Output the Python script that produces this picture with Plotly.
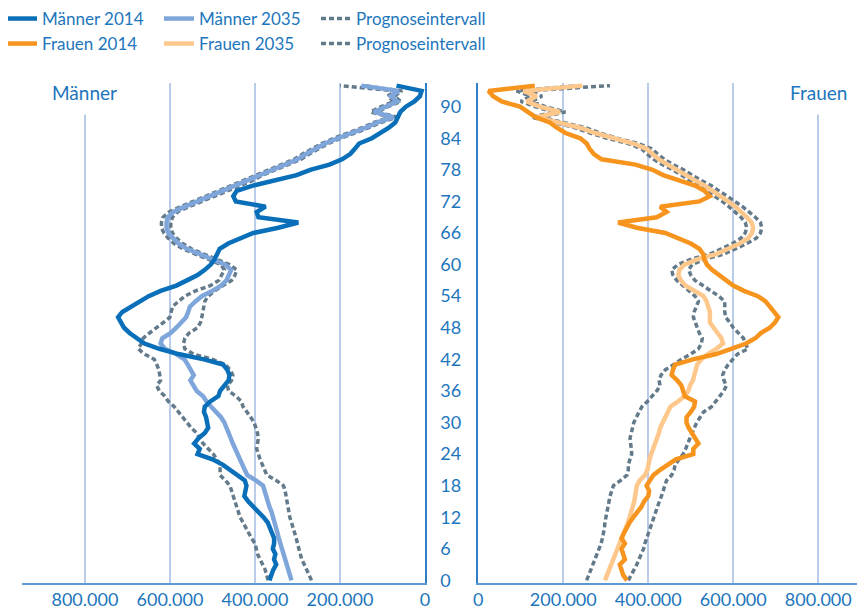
import plotly.graph_objects as go

# Bevölkerung nach Alter, in Tausend (0 bis 94 Jahre)
ages = list(range(95))

maenner_2014 = [366, 362, 357, 350, 355, 352, 358, 355, 355, 360,
                366, 370, 380, 392, 405, 416, 425, 423, 420, 424,
                440, 460, 476, 500, 535, 530, 543, 533, 518, 510,
                512, 515, 520, 518, 505, 486, 482, 472, 462, 460,
                465, 475, 520, 580, 625, 660, 678, 695, 708, 716,
                722, 712, 690, 672, 650, 622, 585, 560, 535,
                518, 504, 495, 490, 483, 463, 435, 404, 345, 298,
                392, 396, 375, 445, 451, 443, 405, 349, 302, 270,
                225, 195, 176, 165, 155, 125, 105, 85, 70, 64,
                58, 45, 25, 12, 8, 67]

maenner_2035 = [314, 318, 322, 326, 330, 333, 337, 340, 344, 347,
                350, 353, 357, 361, 366, 370, 373, 377, 381, 398,
                418, 424, 430, 435, 441, 447, 452, 457, 462, 465,
                472, 480, 490, 503, 514, 522, 537, 546, 552, 544,
                550, 558, 566, 585, 612, 622, 618, 598, 585, 572,
                562, 557, 553, 540, 525, 500, 480, 467, 460,
                456, 470, 500, 530, 560, 580, 594, 604, 608, 608,
                605, 592, 565, 535, 505, 475, 445, 415, 390, 360,
                325, 300, 280, 258, 235, 205, 170, 140, 112, 74,
                120, 95, 65, 80, 62, 150]

maenner_oben = [369, 372, 376, 382, 388, 394, 397, 400, 408, 414,
                420, 428, 435, 439, 443, 447, 451, 455, 459, 470,
                482, 482, 482, 490, 498, 510, 522, 530, 537, 550,
                560, 569, 580, 590, 604, 612, 625, 631, 622, 624,
                626, 631, 637, 660, 675, 667, 663, 648, 630, 615,
                600, 596, 594, 580, 565, 540, 505, 485, 478,
                472, 480, 508, 540, 570, 590, 604, 614, 620, 620,
                616, 602, 575, 545, 515, 485, 455, 425, 398, 368,
                333, 308, 288, 266, 243, 214, 178, 148, 120, 82,
                128, 103, 73, 88, 70, 200]

maenner_unten = [267, 272, 278, 284, 290, 294, 297, 300, 303, 306,
                 310, 314, 318, 320, 322, 324, 325, 329, 333, 350,
                 372, 378, 383, 388, 392, 396, 394, 392, 394, 398,
                 402, 410, 420, 428, 432, 445, 462, 465, 455, 452,
                 458, 470, 500, 545, 565, 568, 565, 555, 535, 528,
                 525, 522, 520, 518, 510, 495, 475, 455, 447,
                 443, 460, 492, 520, 550, 570, 584, 594, 598, 598,
                 594, 582, 555, 525, 495, 465, 435, 405, 382, 352,
                 317, 292, 272, 250, 228, 198, 162, 132, 104, 66,
                 112, 87, 57, 72, 54, 145]

frauen_2014 = [350, 341, 337, 333, 345, 340, 337, 345, 337, 343,
               349, 356, 365, 375, 384, 390, 400, 402, 396, 404,
               412, 428, 445, 465, 506, 506, 518, 510, 500, 495,
               490, 490, 500, 508, 510, 486, 482, 478, 468, 455,
               458, 463, 505, 560, 595, 630, 652, 665, 686, 698,
               706, 695, 684, 676, 658, 625, 600, 584, 565,
               550, 538, 532, 529, 520, 500, 470, 440, 373, 329,
               420, 443, 428, 520, 545, 532, 510, 475, 435, 410,
               370, 290, 272, 262, 255, 240, 205, 185, 168, 135,
               118, 98, 55, 35, 24, 133]

frauen_2035 = [298, 303, 308, 314, 319, 324, 329, 333, 338, 343,
               348, 352, 356, 360, 365, 367, 369, 371, 373, 380,
               392, 398, 400, 403, 407, 412, 416, 421, 425, 428,
               434, 438, 445, 452, 470, 485, 494, 498, 505, 508,
               512, 515, 525, 540, 560, 576, 572, 562, 555, 545,
               545, 545, 541, 537, 530, 508, 488, 477, 471,
               473, 485, 515, 560, 588, 615, 635, 644, 647, 643,
               632, 620, 605, 588, 570, 553, 533, 510, 490, 470,
               445, 425, 410, 396, 365, 315, 275, 240, 190, 137,
               192, 145, 114, 137, 106, 245]

frauen_oben = [353, 360, 367, 373, 378, 384, 389, 392, 396, 400,
               404, 408, 412, 416, 421, 426, 431, 435, 440, 443,
               455, 461, 463, 472, 482, 488, 494, 498, 503, 508,
               514, 522, 530, 549, 558, 567, 578, 584, 578, 575,
               580, 588, 600, 610, 635, 628, 624, 612, 600, 592,
               582, 580, 580, 580, 566, 548, 528, 510, 500,
               495, 503, 532, 578, 605, 632, 654, 664, 667, 664,
               652, 638, 622, 604, 586, 568, 548, 524, 504, 483,
               458, 438, 422, 408, 376, 326, 286, 252, 200, 148,
               205, 158, 126, 150, 118, 310]

frauen_unten = [255, 260, 266, 271, 276, 281, 286, 289, 292, 295,
                297, 298, 300, 302, 304, 306, 310, 314, 318, 335,
                350, 353, 353, 357, 361, 360, 358, 357, 360, 363,
                366, 372, 378, 385, 398, 410, 420, 428, 425, 430,
                440, 460, 478, 500, 518, 525, 527, 520, 516, 510,
                506, 508, 514, 518, 510, 497, 482, 467, 458,
                455, 470, 500, 545, 572, 598, 618, 628, 632, 628,
                618, 605, 590, 574, 556, 540, 520, 498, 478, 458,
                433, 413, 398, 384, 353, 303, 263, 228, 178, 125,
                180, 133, 100, 122, 90, 235]

x_ticks = [0, 200, 400, 600, 800]
x_labels = ["0", "200.000", "400.000", "600.000", "800.000"]
age_ticks = list(range(0, 91, 6))
age_range = [-0.5, 94.5]

blau_dunkel = "#0a6fb9"
blau_hell = "#7fa6da"
orange_dunkel = "#f7941d"
orange_hell = "#fec88c"
grau = "#637a8b"
textfarbe = "#1d76bc"
gridfarbe = "#b9cce9"
font = "Lato"

# the page puts the chart 8px in from the top-left corner
W, H = 857, 601
top, bottom = 75, 575
ph = bottom - top

fig = go.Figure()


def interval(x, y, xa, ya, legend, show):
    fig.add_trace(go.Scatter(
        x=x, y=y, xaxis=xa, yaxis=ya, mode="lines",
        line=dict(color=grau, width=3.5, dash="5px,3px"),
        name="Prognoseintervall", legend=legend, legendrank=3,
        showlegend=show, hoverinfo="skip",
    ))


interval(maenner_unten, ages, "x", "y", "legend", True)
interval(maenner_oben, ages, "x", "y", "legend", False)
interval(frauen_unten, ages, "x2", "y2", "legend2", True)
interval(frauen_oben, ages, "x2", "y2", "legend2", False)

fig.add_trace(go.Scatter(x=maenner_2035, y=ages, xaxis="x", yaxis="y", mode="lines",
                         line=dict(color=blau_hell, width=4.5), name="Männer 2035",
                         legend="legend", legendrank=2))
fig.add_trace(go.Scatter(x=frauen_2035, y=ages, xaxis="x2", yaxis="y2", mode="lines",
                         line=dict(color=orange_hell, width=4.5), name="Frauen 2035",
                         legend="legend2", legendrank=2))
fig.add_trace(go.Scatter(x=maenner_2014, y=ages, xaxis="x", yaxis="y", mode="lines",
                         line=dict(color=blau_dunkel, width=4.5), name="Männer 2014",
                         legend="legend", legendrank=1))
fig.add_trace(go.Scatter(x=frauen_2014, y=ages, xaxis="x2", yaxis="y2", mode="lines",
                         line=dict(color=orange_dunkel, width=4.5), name="Frauen 2014",
                         legend="legend2", legendrank=1))

# empty entries so the legend box is wide enough for "Prognoseintervall"
for lg, xa, ya in [("legend", "x", "y"), ("legend2", "x2", "y2")]:
    fig.add_trace(go.Scatter(x=[None], y=[None], xaxis=xa, yaxis=ya, mode="lines",
                             line=dict(color="rgba(0,0,0,0)"), name=" ",
                             legend=lg, legendrank=4, showlegend=True, hoverinfo="skip"))

tickfont = dict(family=font, size=18, color=textfarbe)

legend_style = dict(
    orientation="h", xanchor="left", yanchor="middle", x=-6 / W,
    entrywidth=112, entrywidthmode="pixels", itemwidth=30,
    bgcolor="rgba(0,0,0,0)", font=dict(family=font, size=17, color=textfarbe),
    traceorder="normal",
)

fig.update_layout(
    template="none",
    width=W, height=H,
    margin=dict(l=0, r=0, t=top, b=H - bottom, pad=0, autoexpand=False),
    paper_bgcolor="white", plot_bgcolor="white",
    font=dict(family=font, color=textfarbe),
    legend=dict(legend_style, y=(bottom - 11) / ph),
    legend2=dict(legend_style, y=(bottom - 36) / ph),
    xaxis=dict(
        domain=[14 / W, 417 / W], range=[948, 0], anchor="y",
        tickvals=x_ticks, ticktext=x_labels, tickfont=tickfont,
        showgrid=True, gridcolor=gridfarbe, gridwidth=1.5, zeroline=False,
        showline=True, linecolor="#5b9bd5", linewidth=1.5,
        ticks="", ticklabelstandoff=0, automargin=False,
    ),
    yaxis=dict(
        domain=[0, 1], range=age_range, anchor="x", side="right",
        tickvals=age_ticks, tickfont=tickfont,
        showgrid=False, zeroline=False,
        showline=True, linecolor="#2f7fc6", linewidth=1.5,
        ticks="", ticklabelstandoff=10, automargin=False,
    ),
    xaxis2=dict(
        domain=[470.3 / W, 1], range=[0, 910], anchor="y2",
        tickvals=x_ticks, ticktext=x_labels, tickfont=tickfont,
        showgrid=True, gridcolor=gridfarbe, gridwidth=1.5, zeroline=False,
        showline=True, linecolor="#5b9bd5", linewidth=1.5,
        ticks="", ticklabelstandoff=0, automargin=False,
    ),
    yaxis2=dict(
        domain=[0, 1], range=age_range, anchor="x2", side="left",
        showticklabels=False, showgrid=False, zeroline=False,
        showline=True, linecolor="#2f7fc6", linewidth=1.5,
        ticks="", automargin=False,
    ),
    showlegend=True,
)

for text, xref in [("Männer", "x"), ("Frauen", "x2")]:
    fig.add_annotation(
        text=text, xref=xref, yref="paper", x=800, y=(bottom - 84) / ph,
        xanchor="center", yanchor="middle",
        showarrow=False, font=dict(family=font, size=19, color=textfarbe),
        bgcolor="white", borderpad=10,
    )

fig.write_html("out.html")
